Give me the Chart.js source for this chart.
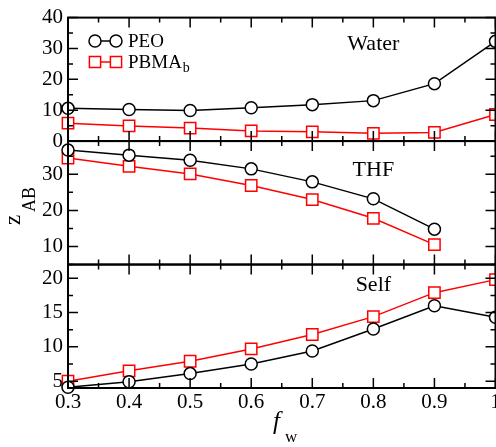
<!DOCTYPE html>
<html>
<head>
<meta charset="utf-8">
<script src="https://cdn.jsdelivr.net/npm/chart.js@4.4.0/dist/chart.umd.min.js"></script>
<style>
  html, body { margin: 0; padding: 0; overflow: hidden; background: #fff; }
  #wrap { width: 505px; height: 447px; }
</style>
</head>
<body>
<div id="wrap"><canvas id="chart" width="505" height="447"></canvas></div>
<script>
// data
const fw = [0.3, 0.4, 0.5, 0.6, 0.7, 0.8, 0.9, 1.0];

const waterPEO  = [10.6, 10.2, 9.9, 10.8, 11.8, 13.1, 18.6, 32.3];
const waterPBMA = [5.8, 4.9, 4.2, 3.3, 3.0, 2.5, 2.8, 8.6];

const thfPEO  = [36.7, 35.3, 33.9, 31.5, 27.9, 23.2, 14.8, null];
const thfPBMA = [34.5, 32.2, 30.1, 26.9, 23.0, 17.8, 10.5, null];

const selfPEO  = [4.1, 4.9, 6.1, 7.5, 9.4, 12.6, 16.0, 14.3];
const selfPBMA = [5.0, 6.5, 7.9, 9.7, 11.8, 14.4, 17.9, 19.8];

const xTicks     = [0.3, 0.4, 0.5, 0.6, 0.7, 0.8, 0.9, 1.0];
const waterTicks = [0, 10, 20, 30, 40];
const thfTicks   = [10, 20, 30];
const selfTicks  = [5, 10, 15, 20];

const panelNames = ['Water', 'THF', 'Self'];

const SERIF = "'Liberation Serif', serif";

function pts(arr) {
    return fw.map((x, i) => ({ x: x, y: arr[i] }));
}

function peoSet(arr, axis) {
    return {
        label: 'PEO', data: pts(arr), yAxisID: axis,
        borderColor: '#000', backgroundColor: '#fff', borderWidth: 1.5,
        pointStyle: 'circle', pointRadius: 6, pointBorderWidth: 1.5,
        pointBackgroundColor: '#fff', pointBorderColor: '#000',
        clip: false
    };
}
function pbmaSet(arr, axis) {
    return {
        label: 'PBMA', data: pts(arr), yAxisID: axis,
        borderColor: '#ff0000', backgroundColor: '#fff', borderWidth: 1.5,
        pointStyle: 'rect', pointRadius: 8, pointBorderWidth: 1.5,
        pointBackgroundColor: '#fff', pointBorderColor: '#ff0000',
        clip: false
    };
}

function yAxis(min, max, ticks, weight) {
    return {
        type: 'linear', position: 'left', stack: 'panels', stackWeight: 1, weight: weight,
        min: min, max: max,
        grid: { display: false, drawTicks: false },
        border: { display: false },
        ticks: { font: { family: SERIF, size: 21 }, color: '#000', padding: 5, autoSkip: false },
        afterBuildTicks: s => { s.ticks = ticks.map(v => ({ value: v })); },
        afterFit: s => { s.width = 68; }
    };
}

const panels = [
    { id: 'yWater', ticks: waterTicks, label: panelNames[0], labelY: 29.5 },
    { id: 'yThf',   ticks: thfTicks,   label: panelNames[1], labelY: 29.4 },
    { id: 'ySelf',  ticks: selfTicks,  label: panelNames[2], labelY: 18.2 }
];

// frames, inward ticks, panel names, legend and axis titles
const decorations = {
    id: 'decorations',
    afterDatasetsDraw(chart) {
        const ctx = chart.ctx;
        const xs = chart.scales.x;
        const left = chart.chartArea.left, right = chart.chartArea.right;
        ctx.save();
        ctx.strokeStyle = '#000';
        ctx.fillStyle = '#000';

        panels.forEach(p => {
            const s = chart.scales[p.id];
            const top = s.top, bottom = s.bottom;

            ctx.lineWidth = 1.5;
            ctx.beginPath();
            // x ticks, top and bottom of every panel
            xTicks.forEach((v, i) => {
                const px = xs.getPixelForValue(v);
                ctx.moveTo(px, top); ctx.lineTo(px, top + 10);
                ctx.moveTo(px, bottom); ctx.lineTo(px, bottom - 10);
                if (i < xTicks.length - 1) {
                    const mx = xs.getPixelForValue((v + xTicks[i + 1]) / 2);
                    ctx.moveTo(mx, top); ctx.lineTo(mx, top + 5);
                    ctx.moveTo(mx, bottom); ctx.lineTo(mx, bottom - 5);
                }
            });
            // y ticks, left and right
            const step = p.ticks[1] - p.ticks[0];
            for (let v = p.ticks[0] - step; v <= s.max + 0.001; v += step / 2) {
                if (v < s.min - 0.001) continue;
                const py = s.getPixelForValue(v);
                const major = Math.abs(((v - p.ticks[0]) / step) % 1) < 1e-6;
                const len = major ? 10 : 5;
                ctx.moveTo(left, py); ctx.lineTo(left + len, py);
                ctx.moveTo(right, py); ctx.lineTo(right - len, py);
            }
            ctx.stroke();

            ctx.lineWidth = 2;
            ctx.strokeRect(left, top, right - left, bottom - top);

            ctx.font = '22px ' + SERIF;
            ctx.textAlign = 'center';
            ctx.textBaseline = 'alphabetic';
            ctx.fillText(p.label, xs.getPixelForValue(0.8), s.getPixelForValue(p.labelY));
        });

        // legend
        const lx1 = left + 27, lx2 = left + 48;
        const rows = [
            { y: 41, ds: chart.data.datasets[0], text: 'PEO' },
            { y: 62, ds: chart.data.datasets[1], text: 'PBMA', sub: 'b' }
        ];
        rows.forEach(r => {
            ctx.strokeStyle = r.ds.borderColor;
            ctx.lineWidth = 1.5;
            ctx.beginPath();
            ctx.moveTo(lx1, r.y); ctx.lineTo(lx2, r.y);
            ctx.stroke();
            [lx1, lx2].forEach(cx => {
                ctx.fillStyle = '#fff';
                ctx.beginPath();
                if (r.ds.pointStyle === 'circle') {
                    ctx.arc(cx, r.y, 6, 0, Math.PI * 2);
                } else {
                    ctx.rect(cx - 5.6, r.y - 5.6, 11.2, 11.2);
                }
                ctx.fill();
                ctx.stroke();
            });
            ctx.fillStyle = '#000';
            ctx.font = '19px ' + SERIF;
            ctx.textAlign = 'left';
            ctx.fillText(r.text, left + 60, r.y + 6);
            if (r.sub) {
                const w = ctx.measureText(r.text).width;
                ctx.font = '14px ' + SERIF;
                ctx.fillText(r.sub, left + 60 + w + 1, r.y + 10);
            }
        });

        // y title z_AB
        ctx.save();
        ctx.translate(20, 225);
        ctx.rotate(-Math.PI / 2);
        ctx.textAlign = 'left';
        ctx.font = '23px ' + SERIF;
        ctx.fillText('z', 0, 0);
        ctx.font = '18px ' + SERIF;
        ctx.fillText('AB', 13, 15);
        ctx.restore();

        // x title f_w
        ctx.textAlign = 'left';
        ctx.font = 'italic 25px ' + SERIF;
        ctx.fillText('f', 273, 429);
        ctx.font = '17px ' + SERIF;
        ctx.fillText('w', 285, 442);

        ctx.restore();
    }
};

function draw() {
    new Chart(document.getElementById('chart').getContext('2d'), {
        type: 'line',
        data: {
            datasets: [
                peoSet(waterPEO, 'yWater'), pbmaSet(waterPBMA, 'yWater'),
                peoSet(thfPEO, 'yThf'), pbmaSet(thfPBMA, 'yThf'),
                peoSet(selfPEO, 'ySelf'), pbmaSet(selfPBMA, 'ySelf')
            ]
        },
        options: {
            responsive: false,
            animation: false,
            layout: { padding: { top: 12, right: 0, bottom: 0, left: 0 } },
            plugins: { legend: { display: false }, tooltip: { enabled: false } },
            scales: {
                x: {
                    type: 'linear', position: 'bottom', min: 0.3, max: 1.0,
                    grid: { display: false, drawTicks: false },
                    border: { display: false },
                    ticks: {
                        font: { family: SERIF, size: 21 }, color: '#000', padding: 2,
                        maxRotation: 0, autoSkip: false,
                        callback: v => (v === 1 ? '1' : v.toFixed(1))
                    },
                    afterBuildTicks: s => { s.ticks = xTicks.map(v => ({ value: v })); },
                    afterFit: s => { s.height = 59; }
                },
                yWater: yAxis(0, 40, waterTicks, 3),
                yThf: yAxis(5, 39.2, thfTicks, 2),
                ySelf: yAxis(4, 22, selfTicks, 1)
            }
        },
        plugins: [decorations]
    });
}

Promise.all([
    document.fonts.load("21px 'Liberation Serif'"),
    document.fonts.load("italic 25px 'Liberation Serif'")
]).then(draw, draw);
</script>
</body>
</html>
